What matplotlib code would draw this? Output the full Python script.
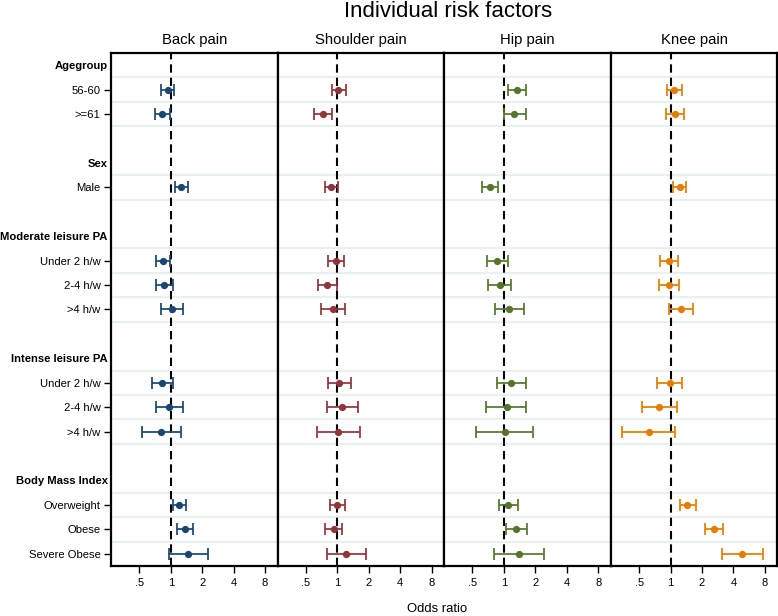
import matplotlib
matplotlib.use("Agg")
import matplotlib.pyplot as plt
from matplotlib.ticker import FixedLocator, NullLocator

plt.rcParams['font.family'] = ['Liberation Sans', 'DejaVu Sans']

# ---------------- data ----------------
groups = ["Agegroup", "Sex", "Moderate leisure PA", "Intense leisure PA", "Body Mass Index"]
group_items = [
    ["56-60", ">=61"],
    ["Male"],
    ["Under 2 h/w", "2-4 h/w", ">4 h/w"],
    ["Under 2 h/w", "2-4 h/w", ">4 h/w"],
    ["Overweight", "Obese", "Severe Obese"],
]

panels = ["Back pain", "Shoulder pain", "Hip pain", "Knee pain"]
colors = ["#1a476f", "#90353b", "#55752f", "#e37e00"]

# odds ratio, lower CI, upper CI (order: items as listed above)
back_or = [0.94, 0.83, 1.26, 0.84, 0.86, 1.03, 0.82, 0.96, 0.81, 1.21, 1.38, 1.47]
back_lo = [0.815, 0.70, 1.11, 0.715, 0.715, 0.815, 0.655, 0.715, 0.526, 1.05, 1.16, 0.963]
back_hi = [1.07, 0.985, 1.46, 0.99, 1.05, 1.30, 1.05, 1.30, 1.26, 1.40, 1.63, 2.27]

shoulder_or = [1.02, 0.73, 0.877, 0.97, 0.80, 0.90, 1.045, 1.12, 1.02, 1.00, 0.92, 1.22]
shoulder_lo = [0.88, 0.60, 0.757, 0.81, 0.66, 0.70, 0.81, 0.80, 0.635, 0.86, 0.76, 0.79]
shoulder_hi = [1.20, 0.89, 1.01, 1.17, 1.00, 1.18, 1.36, 1.57, 1.66, 1.18, 1.11, 1.90]

hip_or = [1.34, 1.26, 0.73, 0.86, 0.91, 1.13, 1.17, 1.06, 1.015, 1.10, 1.31, 1.39]
hip_lo = [1.10, 1.00, 0.61, 0.69, 0.70, 0.83, 0.85, 0.68, 0.545, 0.90, 1.04, 0.80]
hip_hi = [1.63, 1.61, 0.877, 1.09, 1.18, 1.56, 1.64, 1.64, 1.88, 1.36, 1.66, 2.44]

knee_or = [1.09, 1.10, 1.23, 0.964, 0.957, 1.25, 0.98, 0.78, 0.62, 1.44, 2.59, 4.85]
knee_lo = [0.92, 0.90, 1.05, 0.79, 0.77, 0.957, 0.736, 0.53, 0.346, 1.22, 2.14, 3.13]
knee_hi = [1.28, 1.36, 1.42, 1.17, 1.21, 1.64, 1.29, 1.16, 1.10, 1.74, 3.18, 7.63]

panel_data = [
    (back_or, back_lo, back_hi),
    (shoulder_or, shoulder_lo, shoulder_hi),
    (hip_or, hip_lo, hip_hi),
    (knee_or, knee_lo, knee_hi),
]

xticks = [0.5, 1, 2, 4, 8]
xticklabels = [".5", "1", "2", "4", "8"]

# ---------------- layout of rows ----------------
header_pos, item_pos, item_labels = [], [], []
pos = 0
for g, items in zip(groups, group_items):
    header_pos.append(pos)
    pos += 1
    for it in items:
        item_pos.append(pos)
        item_labels.append(it)
        pos += 1
    pos += 1  # blank row
nrows = pos - 1

grid_lines = sorted(set([p - 0.5 for p in item_pos] + [p + 0.5 for p in item_pos]))

# ---------------- figure ----------------
W, H = 778, 616
fig = plt.figure(figsize=(W / 100, H / 100), dpi=100)

left0 = 111
pw = 166.6
top_px, bot_px = 53, 566

for i, (name, col, (orv, lo, hi)) in enumerate(zip(panels, colors, panel_data)):
    ax = fig.add_axes([(left0 + i * pw) / W, 1 - bot_px / H, pw / W, (bot_px - top_px) / H])
    ax.set_xscale('log', base=2)
    ax.set_xlim(0.268, 10.55)
    ax.set_ylim(nrows - 0.5, -0.5)

    for gl in grid_lines:
        ax.axhline(gl, color="#e8f0f2", lw=1.5, zorder=0)

    ax.axvline(1, color="black", lw=1.5, dashes=(4, 2.4), zorder=1)

    xerr = [[o - l for o, l in zip(orv, lo)], [h - o for o, h in zip(orv, hi)]]
    ax.errorbar(orv, item_pos, xerr=xerr, fmt='o', color=col, ecolor=col,
                markersize=4.2, elinewidth=1.25, capsize=4.2, capthick=1.25, zorder=3)

    ax.xaxis.set_major_locator(FixedLocator(xticks))
    ax.xaxis.set_minor_locator(NullLocator())
    ax.set_xticklabels(xticklabels)
    ax.tick_params(axis='x', which='major', length=5, width=1.0, labelsize=8, pad=3.5)

    for s in ax.spines.values():
        s.set_linewidth(1.6)

    ax.set_title(name, fontsize=10.7, pad=6.5)

    if i == 0:
        ax.yaxis.set_major_locator(FixedLocator(item_pos))
        ax.set_yticklabels(item_labels)
        ax.yaxis.set_minor_locator(FixedLocator(header_pos))
        ax.set_yticklabels(groups, minor=True, fontweight='bold')
        ax.tick_params(axis='y', which='major', length=5, width=1.0, labelsize=8.1, pad=2.5)
        ax.tick_params(axis='y', which='minor', length=0, labelsize=8.1, pad=2.5)
    else:
        ax.set_yticks([])
        ax.yaxis.set_minor_locator(NullLocator())

fig.text(448 / W, 1 - 16.7 / H, "Individual risk factors", fontsize=16,
         ha='center', va='baseline')
fig.text(437 / W, 1 - 612.5 / H, "Odds ratio", fontsize=9.4,
         ha='center', va='baseline')

fig.savefig("out.png", dpi=100, facecolor='white')
